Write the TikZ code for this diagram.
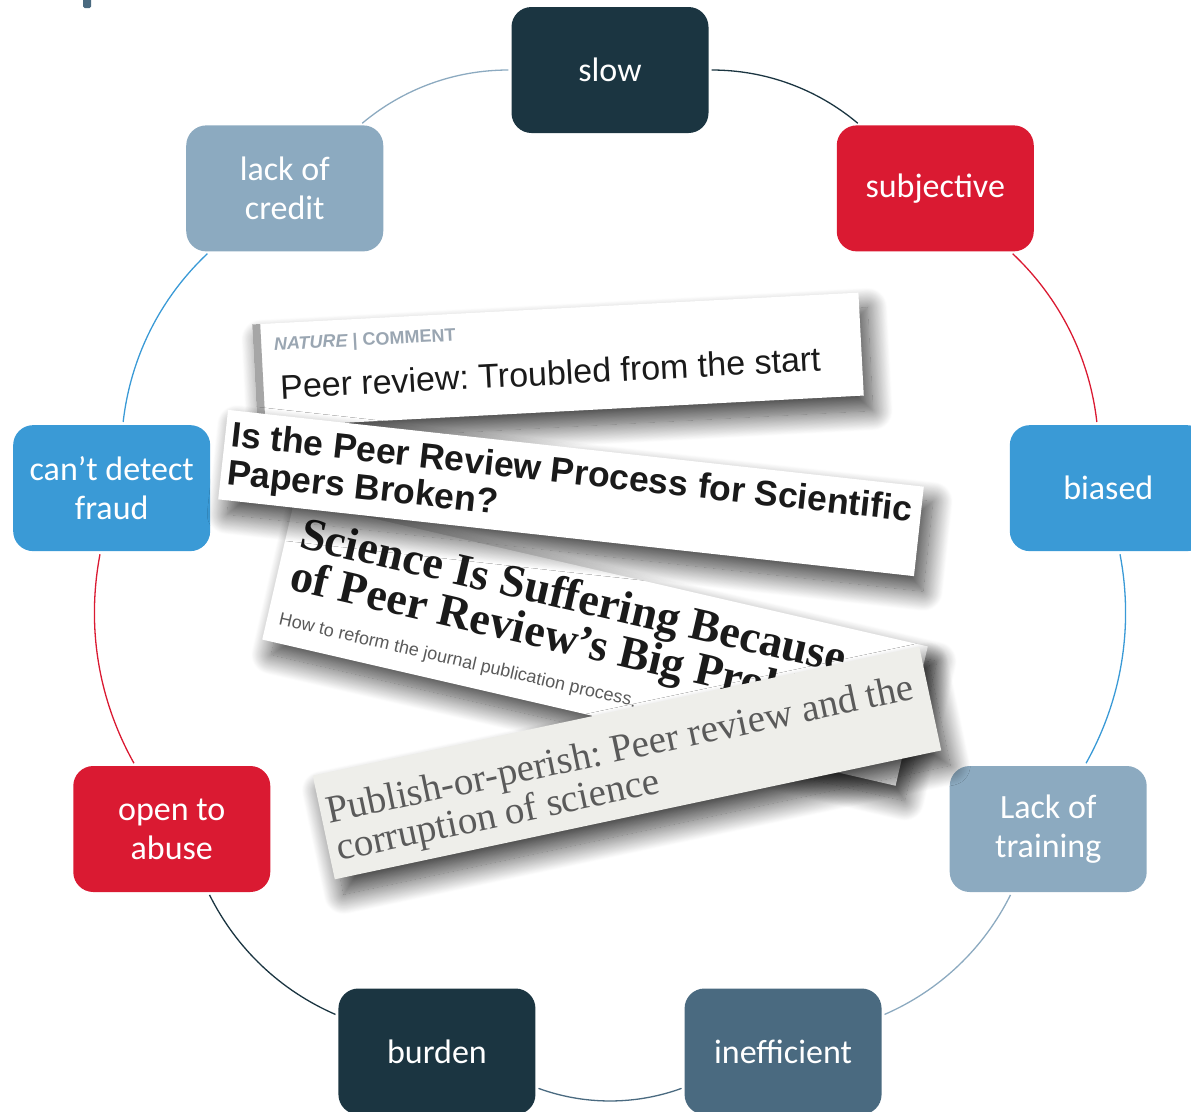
\documentclass[tikz,border=0pt]{standalone}
\usepackage{fontspec}
\setmainfont{Carlito}
\newfontfamily\headsans{Liberation Sans}
\newfontfamily\headserif{Liberation Serif}
\usetikzlibrary{shadows.blur}
\frenchspacing

\definecolor{navy}{HTML}{1B3541}
\definecolor{crimson}{HTML}{DA1A32}
\definecolor{sky}{HTML}{3A9AD6}
\definecolor{mist}{HTML}{8CAAC0}
\definecolor{slate}{HTML}{4A6A80}
\definecolor{ink}{HTML}{1A1A1A}
\definecolor{tag}{HTML}{9AA6B2}
\definecolor{paper}{HTML}{EEEEEA}
\definecolor{pencil}{HTML}{5A5A5A}

\tikzset{
  issue/.style={rounded corners=20pt, minimum width=197pt, minimum height=126pt,
    inner sep=0pt, text=white, align=center, font=\fontsize{34}{39}\selectfont},
  ring/.style={line width=1.3pt, bend left=20, looseness=0.9, shorten <=3pt, shorten >=3pt},
  card/.style={blur shadow={shadow xshift=9pt, shadow yshift=-15pt,
    shadow blur radius=20pt, shadow blur steps=25, shadow opacity=75}},
  line/.style={anchor=base west, inner sep=0pt},
}

\begin{document}
\begin{tikzpicture}[x=1pt, y=1pt]
    \clip (0,0) rectangle (1191,-1111);
    \fill[slate, rounded corners=1.5pt] (83,2) rectangle (91,-8);

    \coordinate (c) at (610,-576);
    \foreach \ang/\name/\col/\txt in {90/slow/navy/slow, 50/subj/crimson/subjective,
        10/biased/sky/biased, -30/training/mist/{Lack of\\training},
        -70/ineff/slate/inefficient, -110/burden/navy/burden,
        -150/abuse/crimson/{open to\\abuse}, 170/fraud/sky/{can’t detect\\fraud},
        130/credit/mist/{lack of\\credit}}
      \path (c) ++(\ang:506) node[issue, fill=\col] (\name) {\txt};

    \foreach \from/\to/\col in {slow/subj/navy, subj/biased/crimson, biased/training/sky,
        training/ineff/mist, ineff/burden/slate, burden/abuse/navy,
        abuse/fraud/crimson, fraud/credit/sky, credit/slow/mist}
      \draw[ring, \col] (\from) to (\to);

    % clippings
    \begin{scope}[shift={(558,-360)}, rotate=3, transform shape]
      \fill[white, card] (-303.5,-51.5) rectangle (303.5,51.5);
      \fill[gray!70] (-303.5,-51.5) rectangle (-295.5,51.5);
      \node[line, text=tag, font=\headsans\bfseries\fontsize{18}{20}\selectfont] (naturetag)
        at (-283,24.5) {\itshape NATURE\upshape{} | COMMENT};
      \node[line, text=ink, font=\headsans\fontsize{34}{40}\selectfont] (naturehead)
        at (-279,-24.5) {Peer review: Troubled from the start};
    \end{scope}

    \begin{scope}[shift={(595,-643)}, rotate=-13, transform shape]
      \fill[white, card] (-325,-71.5) rectangle (325,71.5);
      \node[line, text=ink, font=\headserif\bfseries\fontsize{46}{50}\selectfont] (sciencea)
        at (-311,26) {Science Is Suffering Because};
      \node[line, text=ink, font=\headserif\bfseries\fontsize{46}{50}\selectfont] (scienceb)
        at (-311,-17) {of Peer Review’s Big Problem};
      \node[line, text=pencil, font=\headsans\fontsize{18}{20}\selectfont] (sciencesub)
        at (-313,-53.5) {How to reform the journal publication process.};
    \end{scope}

    \begin{scope}[shift={(571,-493)}, rotate=-6.3, transform shape]
      \fill[white, card] (-350,-45) rectangle (350,45);
      \node[line, text=ink, font=\headsans\bfseries\fontsize{35.5}{38}\selectfont] (brokena)
        at (-344,9) {Is the Peer Review Process for Scientific};
      \node[line, text=ink, font=\headsans\bfseries\fontsize{35.5}{38}\selectfont] (brokenb)
        at (-344,-29) {Papers Broken?};
    \end{scope}

    \begin{scope}[shift={(627,-763)}, rotate=12, transform shape]
      \fill[paper, card] (-310,-53) rectangle (310,53);
      \node[line, text=pencil, font=\headserif\fontsize{39}{42}\selectfont] (perisha)
        at (-304,3) {Publish-or-perish: Peer review and the};
      \node[line, text=pencil, font=\headserif\fontsize{39}{42}\selectfont] (perishb)
        at (-302,-36) {corruption of science};
    \end{scope}
\end{tikzpicture}
\end{document}
